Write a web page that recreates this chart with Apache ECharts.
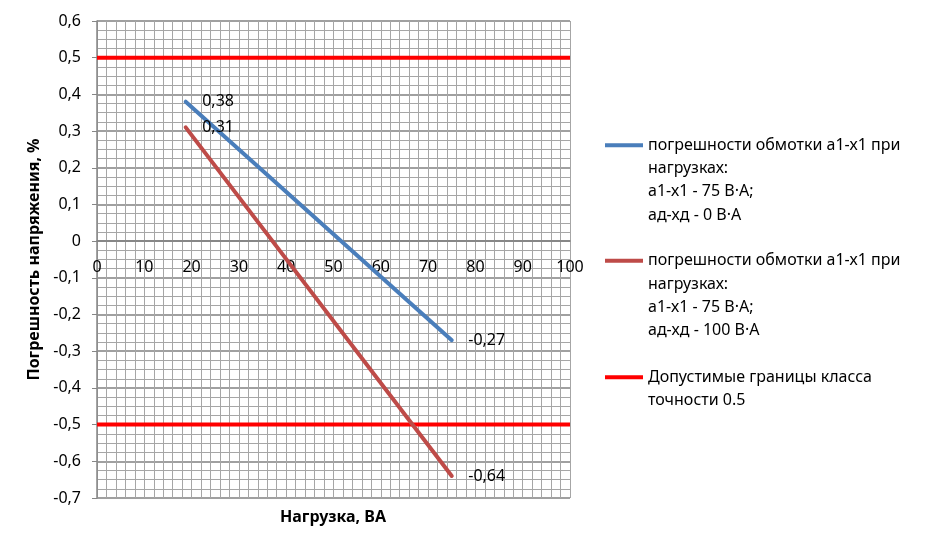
<!DOCTYPE html>
<html>
<head>
<meta charset="utf-8">
<script src="https://cdn.jsdelivr.net/npm/echarts@6/dist/echarts.min.js"></script>
<style>
  html, body { margin: 0; padding: 0; background: #fff; }
  #chart { width: 926px; height: 548px; }
</style>
</head>
<body>
<div id="chart"></div>
<script>
// данные
var loadA = [18.75, 75];
var errA = [0.38, -0.27];
var loadB = [18.75, 75];
var errB = [0.31, -0.64];
var limitLoad = [0, 100];
var limitUp = [0.5, 0.5];
var limitDown = [-0.5, -0.5];

var nameA = 'погрешности обмотки а1-х1 при\nнагрузках:\nа1-х1 - 75 В·А;\nад-хд - 0 В·А';
var nameB = 'погрешности обмотки а1-х1 при\nнагрузках:\nа1-х1 - 75 В·А;\nад-хд - 100 В·А';
var nameLim = 'Допустимые границы класса\nточности 0.5';

var FONT = 'Noto Sans';
var LH = 23.3;
var GRID_TOP = 21, GRID_BOTTOM = 50, H = 548;
var Y_MIN = -0.7, Y_MAX = 0.6;

function pairs(xs, ys) {
	var out = [];
	for (var i = 0; i < xs.length; i++) out.push([xs[i], ys[i]]);
	return out;
}

function comma(v) {
	if (Math.abs(v) < 1e-9) return '0';
	return v.toFixed(1).replace('.', ',');
}

// значок легенды - линия на уровне первой строки подписи
function legendFor(name, lines, firstLineTop) {
	var h = lines * LH;
	var y = LH / 2 - 2;
	return {
		orient: 'vertical',
		left: 605,
		top: firstLineTop,
		padding: 0,
		itemWidth: 38,
		itemHeight: h,
		symbolKeepAspect: false,
		selectedMode: false,
		itemStyle: { borderWidth: 0 },
		textStyle: { fontFamily: FONT, fontSize: 16, color: '#000', lineHeight: LH },
		data: [{
			name: name,
			icon: 'path://M0,0h38M0,' + y + 'h38v4h-38zM0,' + h + 'h38'
		}]
	};
}

// ось X проходит через ноль оси Y (onZero не сработал - сдвигаем смещением)
var plotH = H - GRID_TOP - GRID_BOTTOM;
var zeroShift = plotH * (0 - Y_MIN) / (Y_MAX - Y_MIN);

var myChart = echarts.init(document.getElementById('chart'));

var labelOpt = {
	show: true, position: 'right', distance: 16, color: '#000', fontFamily: FONT, fontSize: 16,
	formatter: function (p) { return p.value[1].toFixed(2).replace('.', ','); }
};

var option = {
	animation: false,
	backgroundColor: '#fff',
	grid: { left: 97, right: 356, top: GRID_TOP, bottom: GRID_BOTTOM },
	legend: [
		legendFor(nameA, 4, 133.5),
		legendFor(nameB, 4, 249),
		legendFor(nameLim, 2, 365.5)
	],
	graphic: [{
		type: 'text',
		x: 333,
		y: 509,
		style: { text: 'Нагрузка, ВА', font: 'bold 16px "Noto Sans"', fill: '#000', align: 'center' }
	}],
	xAxis: {
		type: 'value',
		min: 0,
		max: 100,
		interval: 10,
		position: 'bottom',
		offset: -zeroShift,
		axisLine: { onZero: false, lineStyle: { color: '#7f7f7f', width: 1.5 } },
		axisTick: { show: false },
		axisLabel: { margin: 18, color: '#000', fontFamily: FONT, fontSize: 16 },
		splitLine: { show: true, lineStyle: { color: '#a6a6a6', width: 1 } },
		minorTick: { show: false, splitNumber: 5 },
		minorSplitLine: { show: true, lineStyle: { color: '#a6a6a6', width: 1 } }
	},
	yAxis: {
		type: 'value',
		min: Y_MIN,
		max: Y_MAX,
		interval: 0.1,
		name: 'Погрешность напряжения, %',
		nameLocation: 'middle',
		nameGap: 44,
		nameTextStyle: { color: '#000', fontFamily: FONT, fontSize: 16, fontWeight: 'bold' },
		axisLine: { show: true, lineStyle: { color: '#868686', width: 1.5 } },
		axisTick: { show: true, length: 5, lineStyle: { color: '#868686' } },
		axisLabel: { margin: 16, color: '#000', fontFamily: FONT, fontSize: 16, formatter: comma },
		splitLine: { show: true, lineStyle: { color: '#808080', width: 1.5 } },
		minorTick: { show: false, splitNumber: 4 },
		minorSplitLine: { show: true, lineStyle: { color: '#a6a6a6', width: 1 } }
	},
	series: [
		{
			name: nameA,
			type: 'line',
			symbol: 'circle',
			symbolSize: 1,
			showSymbol: true,
			data: pairs(loadA, errA),
			lineStyle: { color: '#4a7ebb', width: 4, cap: 'round' },
			itemStyle: { color: '#4a7ebb' },
			label: labelOpt,
			z: 3
		},
		{
			name: nameB,
			type: 'line',
			symbol: 'circle',
			symbolSize: 1,
			showSymbol: true,
			data: pairs(loadB, errB),
			lineStyle: { color: '#be4b48', width: 4, cap: 'round' },
			itemStyle: { color: '#be4b48' },
			label: labelOpt,
			z: 3
		},
		{
			name: nameLim,
			type: 'line',
			symbol: 'none',
			data: pairs(limitLoad, limitUp),
			lineStyle: { color: '#ff0000', width: 4 },
			itemStyle: { color: '#ff0000' },
			z: 2
		},
		{
			name: nameLim,
			type: 'line',
			symbol: 'none',
			data: pairs(limitLoad, limitDown),
			lineStyle: { color: '#ff0000', width: 4 },
			itemStyle: { color: '#ff0000' },
			z: 2
		}
	]
};

myChart.setOption(option);
</script>
</body>
</html>
